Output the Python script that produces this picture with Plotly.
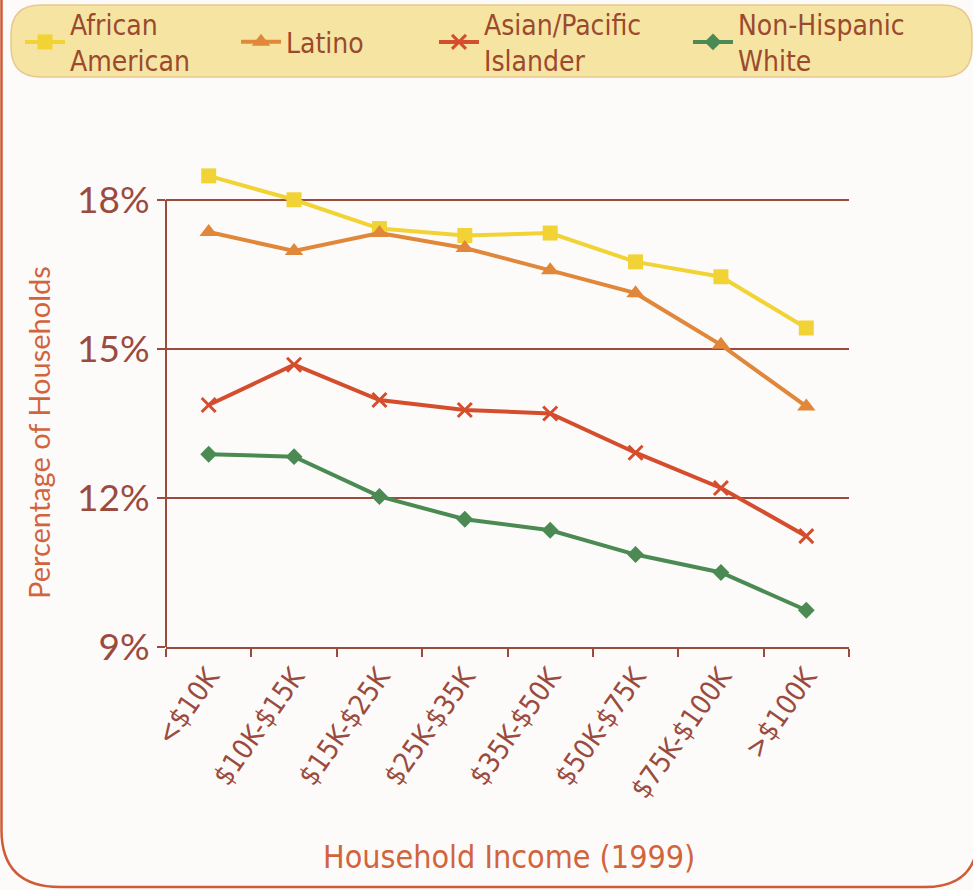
import plotly.graph_objects as go

# Household income brackets (1999)
income_brackets = ["<$10K", "$10K-$15K", "$15K-$25K", "$25K-$35K",
                   "$35K-$50K", "$50K-$75K", "$75K-$100K", ">$100K"]

# Percentage of households, by group
african_american = [18.48, 18.0, 17.42, 17.28, 17.33, 16.75, 16.45, 15.42]
latino = [17.35, 16.97, 17.33, 17.03, 16.58, 16.12, 15.08, 13.84]
asian_pacific = [13.87, 14.68, 13.97, 13.77, 13.70, 12.91, 12.20, 11.23]
non_hispanic_white = [12.88, 12.83, 12.03, 11.57, 11.35, 10.86, 10.50, 9.74]

y_ticks = [9, 12, 15, 18]
y_tick_labels = ["9%", "12%", "15%", "18%"]

W, H = 973, 890
ML, MR, MT, MB = 166, 124, 160, 243
PW, PH = W - ML - MR, H - MT - MB

BROWN = "#9b4b3e"
ORANGE_TXT = "#d2643c"
NARROW = "Liberation Sans Narrow, DejaVu Sans Condensed, Lato, sans-serif"


def px_x(px):
    return (px - ML) / PW


def px_y(py):
    return (H - MB - py) / PH


series = [
    ("African<br>American", african_american, "#f2d335", "square", 15, "legend"),
    ("Latino", latino, "#e0873a", "triangle-up", 16, "legend2"),
    ("Asian/Pacific<br>Islander", asian_pacific, "#d44e2e", "x-thin", 14, "legend3"),
    ("Non-Hispanic<br>White", non_hispanic_white, "#4b8b53", "diamond", 13, "legend4"),
]

fig = go.Figure()
for name, vals, color, symbol, size, leg in series:
    marker = dict(symbol=symbol, size=size, color=color)
    if symbol == "x-thin":
        marker["line"] = dict(color=color, width=3)
    fig.add_trace(go.Scatter(
        x=income_brackets, y=vals, name=name, mode="lines+markers",
        line=dict(color=color, width=4), marker=marker, legend=leg,
        cliponaxis=False,
    ))


def rounded_rect(x0, y0, x1, y1, r):
    return (f"M{px_x(x0 + r)},{px_y(y0)} L{px_x(x1 - r)},{px_y(y0)} "
            f"Q{px_x(x1)},{px_y(y0)} {px_x(x1)},{px_y(y0 + r)} "
            f"L{px_x(x1)},{px_y(y1 - r)} "
            f"Q{px_x(x1)},{px_y(y1)} {px_x(x1 - r)},{px_y(y1)} "
            f"L{px_x(x0 + r)},{px_y(y1)} "
            f"Q{px_x(x0)},{px_y(y1)} {px_x(x0)},{px_y(y1 - r)} "
            f"L{px_x(x0)},{px_y(y0 + r)} "
            f"Q{px_x(x0)},{px_y(y0)} {px_x(x0 + r)},{px_y(y0)} Z")


# outer card frame (left, bottom and right edges with rounded lower corners)
frame_path = (f"M{px_x(1.5)},{px_y(-10)} L{px_x(1.5)},{px_y(830)} "
              f"Q{px_x(1.5)},{px_y(887)} {px_x(60)},{px_y(887)} "
              f"L{px_x(925)},{px_y(887)} "
              f"Q{px_x(978)},{px_y(887)} {px_x(978)},{px_y(835)} "
              f"L{px_x(978)},{px_y(-10)}")

shapes = [
    dict(type="path", xref="paper", yref="paper", path=frame_path,
         line=dict(color="#cf5c36", width=2.5), layer="below"),
    dict(type="path", xref="paper", yref="paper",
         path=rounded_rect(11, 5, 972, 77, 30),
         fillcolor="#f6e4a3", line=dict(color="#e8c88f", width=1.5),
         layer="below"),
    # left axis line spanning 9%..18%
    dict(type="line", xref="paper", yref="y", x0=0, x1=0, y0=9, y1=18,
         line=dict(color=BROWN, width=2)),
]

annotations = [
    dict(text="Percentage of Households", xref="paper", yref="paper",
         x=px_x(38), y=px_y(433), showarrow=False, textangle=-90,
         xanchor="center", yanchor="middle",
         font=dict(family="Lato, sans-serif", size=29, color=ORANGE_TXT)),
    dict(text="Household Income (1999)", xref="paper", yref="paper",
         x=px_x(509), y=px_y(857), showarrow=False,
         xanchor="center", yanchor="middle",
         font=dict(family=NARROW, size=32, color=ORANGE_TXT)),
]

leg_font = dict(family=NARROW, size=28, color="#9b4a2e")
legend_common = dict(orientation="v", bgcolor="rgba(0,0,0,0)", font=leg_font,
                     xanchor="left", yanchor="middle", itemwidth=40,
                     tracegroupgap=0, xref="container", yref="container")
leg_x = [20, 236, 434, 688]
leg_y = 1 - 42 / H

fig.update_layout(
    width=W, height=H,
    margin=dict(l=ML, r=MR, t=MT, b=MB, autoexpand=False),
    paper_bgcolor="#fcfbfa", plot_bgcolor="#fcfbfa",
    showlegend=True,
    legend=dict(x=leg_x[0] / W, y=leg_y, **legend_common),
    legend2=dict(x=leg_x[1] / W, y=leg_y, **legend_common),
    legend3=dict(x=leg_x[2] / W, y=leg_y, **legend_common),
    legend4=dict(x=leg_x[3] / W, y=leg_y, **legend_common),
    shapes=shapes,
    annotations=annotations,
    xaxis=dict(
        type="category", range=[-0.5, 7.5], showgrid=False,
        showline=True, linecolor=BROWN, linewidth=2,
        ticks="outside", tickson="boundaries", ticklen=8, tickwidth=2,
        tickcolor=BROWN, tickangle=-55, automargin=False,
        tickfont=dict(family=NARROW, size=28, color=BROWN),
        zeroline=False,
    ),
    yaxis=dict(
        range=[9, 18.8], tickvals=y_ticks, ticktext=y_tick_labels,
        showgrid=True, gridcolor=BROWN, gridwidth=2,
        showline=False, zeroline=False, automargin=False,
        ticks="outside", ticklen=8, tickwidth=2, tickcolor=BROWN,
        tickfont=dict(family="Lato, sans-serif", size=37, color=BROWN),
    ),
)

fig.write_html("out.html")
